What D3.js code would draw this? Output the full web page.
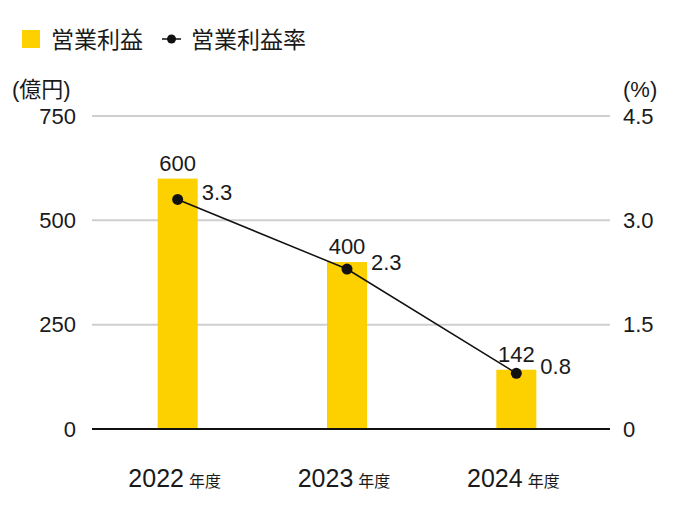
<!DOCTYPE html>
<html><head><meta charset="utf-8">
<script src="https://cdn.jsdelivr.net/npm/d3@7"></script>
<style>
body{margin:0;background:#fff;}
text{font-family:"Liberation Sans","Noto Sans CJK JP",sans-serif;fill:#1a1a1a;}
</style></head>
<body><svg id="c" width="684" height="514"></svg>
<script>
const years = ["2022", "2023", "2024"];
const profit = [600, 400, 142];
const margin = [3.3, 2.3, 0.8];
const leftTicks = [0, 250, 500, 750];
const rightTicks = [0, 1.5, 3.0, 4.5];
const legendLabels = ["営業利益", "営業利益率"];

const svg = d3.select("#c");
const x0 = 92, x1 = 610, yTop = 116, yBot = 429;
const x = d3.scaleBand().domain(years).range([93, 601]);
const yL = d3.scaleLinear().domain([0, 750]).range([yBot, yTop]);
const yR = d3.scaleLinear().domain([0, 4.5]).range([yBot, yTop]);
const barW = 40;
const yellow = "#FDD000";

// gridlines
svg.append("g").selectAll("line").data(leftTicks.filter(d => d > 0)).join("line")
  .attr("x1", x0).attr("x2", x1).attr("y1", d => yL(d)).attr("y2", d => yL(d))
  .attr("stroke", "#cfcfcf").attr("stroke-width", 2);

// axis labels
const axL = svg.append("g").attr("transform", `translate(76,0)`)
  .call(d3.axisLeft(yL).tickValues(leftTicks).tickSize(0).tickPadding(0));
axL.select(".domain").remove();
axL.selectAll("text").attr("font-size", 22).attr("fill", "#1a1a1a")
  .attr("font-family", "Liberation Sans, sans-serif");

const axR = svg.append("g").attr("transform", `translate(623,0)`)
  .call(d3.axisRight(yR).tickValues(rightTicks).tickSize(0).tickPadding(0)
    .tickFormat((d, i) => i === 0 ? "0" : d3.format(".1f")(d)));
axR.select(".domain").remove();
axR.selectAll("text").attr("font-size", 22).attr("fill", "#1a1a1a")
  .attr("font-family", "Liberation Sans, sans-serif");

// unit labels
svg.append("text").attr("x", 12).attr("y", 97).attr("font-size", 22).text("(億円)");
svg.append("text").attr("x", 623).attr("y", 97).attr("font-size", 22).text("(%)");

// bars
const cx = d => x(d) + x.bandwidth() / 2;
svg.append("g").selectAll("rect").data(years).join("rect")
  .attr("x", d => cx(d) - barW / 2).attr("width", barW)
  .attr("y", (d, i) => yL(profit[i])).attr("height", (d, i) => yBot - yL(profit[i]))
  .attr("fill", yellow);

// zero axis
svg.append("line").attr("x1", x0).attr("x2", x1).attr("y1", yBot).attr("y2", yBot)
  .attr("stroke", "#111").attr("stroke-width", 2);

// bar value labels
svg.append("g").selectAll("text").data(years).join("text")
  .attr("x", d => cx(d)).attr("y", (d, i) => yL(profit[i]) - 8)
  .attr("text-anchor", "middle").attr("font-size", 22).text((d, i) => profit[i]);

// line
const line = d3.line().x((d, i) => cx(years[i])).y(d => yR(d));
svg.append("path").datum(margin).attr("d", line)
  .attr("fill", "none").attr("stroke", "#111").attr("stroke-width", 1.5);
svg.append("g").selectAll("circle").data(margin).join("circle")
  .attr("cx", (d, i) => cx(years[i])).attr("cy", d => yR(d)).attr("r", 5.5).attr("fill", "#111");
svg.append("g").selectAll("text").data(margin).join("text")
  .attr("x", (d, i) => cx(years[i]) + 24).attr("y", d => yR(d) + 1)
  .attr("font-size", 22).text(d => d3.format(".1f")(d));

// x labels
const xl = svg.append("g").selectAll("text").data(years).join("text")
  .attr("x", (d, i) => cx(d) - 3).attr("y", 487).attr("text-anchor", "middle");
xl.append("tspan").attr("font-size", 25).text(d => d);
xl.append("tspan").attr("font-size", 16).attr("dx", 5).text("年度");

// legend
svg.append("rect").attr("x", 22).attr("y", 30).attr("width", 18).attr("height", 18).attr("fill", yellow);
svg.append("text").attr("x", 51).attr("y", 48).attr("font-size", 23).text(legendLabels[0]);
svg.append("line").attr("x1", 162).attr("x2", 181).attr("y1", 39).attr("y2", 39).attr("stroke", "#111").attr("stroke-width", 1.5);
svg.append("circle").attr("cx", 171.5).attr("cy", 39).attr("r", 4.5).attr("fill", "#111");
svg.append("text").attr("x", 191).attr("y", 48).attr("font-size", 23).text(legendLabels[1]);
</script></body></html>
